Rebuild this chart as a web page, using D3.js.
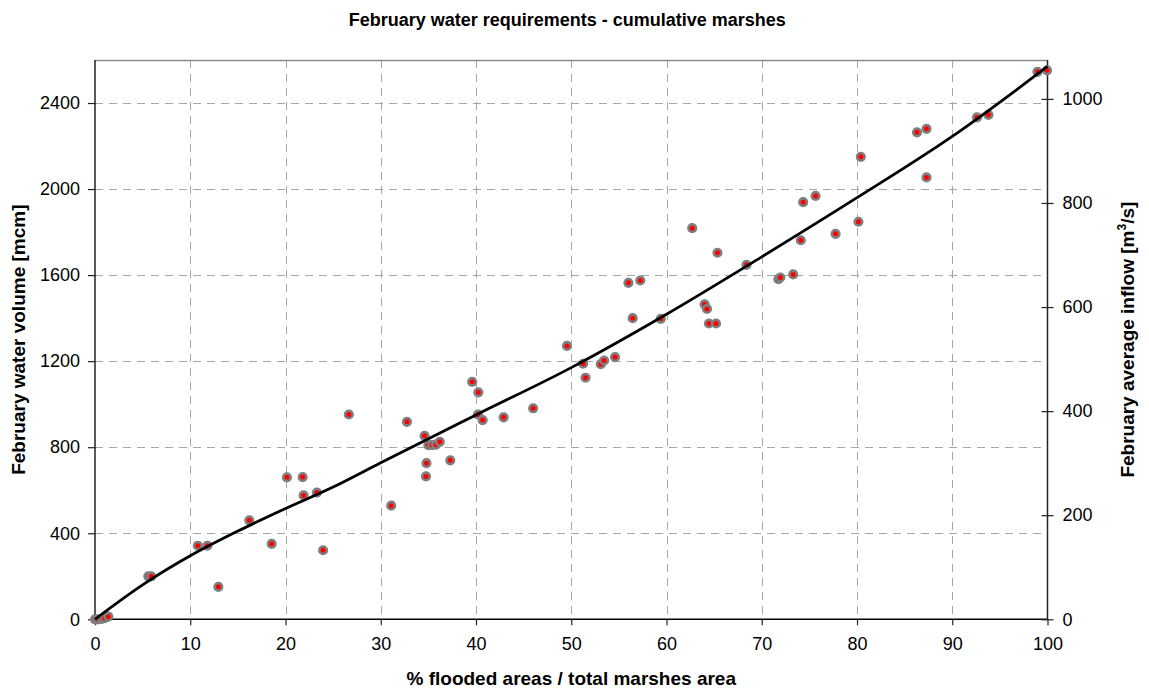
<!DOCTYPE html>
<html>
<head>
<meta charset="utf-8">
<script src="https://cdn.jsdelivr.net/npm/d3@7"></script>
<style>
  html, body { margin: 0; padding: 0; background: #ffffff; }
  svg { display: block; }
  text { font-family: "Liberation Sans", Arial, sans-serif; fill: #000; }
</style>
</head>
<body>
<svg id="chart" width="1149" height="692"></svg>
<script>
// Observed marsh states: share of the marshes that is flooded (%) and the
// February water volume needed to reach it (million cubic metres).
const floodedPct = [
  0, 0.3, 0.7, 1.0, 1.4, 5.6, 5.9, 10.8, 11.8, 12.95,
  16.2, 18.55, 20.15, 21.8, 21.9, 23.3, 23.95, 26.65, 31.1, 32.75,
  34.6, 34.8, 34.75, 35.0, 35.4, 35.8, 36.2, 37.3, 39.6, 40.25,
  40.2, 40.7, 42.9, 46.0, 49.55, 51.25, 51.5, 53.1, 53.45, 54.6,
  56.0, 56.45, 57.25, 59.4, 62.7, 64.0, 64.25, 64.45, 65.2, 65.35,
  68.4, 71.75, 71.95, 73.3, 74.1, 74.35, 75.65, 77.75, 80.15, 80.4,
  86.3, 87.3, 87.3, 92.6, 93.8, 98.95, 99.95
];
const volumeMcm = [
  0, 0, 2, 5, 12, 200, 200, 342, 342, 151,
  460, 351, 660, 661, 576, 589, 321, 952, 528, 918,
  853, 726, 664, 810, 810, 812, 825, 739, 1104, 1055,
  952, 926, 939, 981, 1271, 1188, 1123, 1186, 1203, 1219,
  1564, 1400, 1575, 1397, 1818, 1464, 1443, 1375, 1375, 1704,
  1648, 1581, 1589, 1603, 1762, 1939, 1968, 1792, 1848, 2150,
  2264, 2280, 2054, 2333, 2345, 2545, 2552
];

// Fitted requirement curve (flooded % -> volume, mcm)
const fitPct    = [0, 5, 10, 15, 20, 25, 30, 40, 50, 60, 70, 80, 90, 100];
const fitVolume = [0, 160, 295, 410, 515, 615, 728, 950, 1170, 1418, 1685, 1960, 2245, 2570];

// Axis ticks
const xTicks      = [0, 10, 20, 30, 40, 50, 60, 70, 80, 90, 100];
const volumeTicks = [0, 400, 800, 1200, 1600, 2000, 2400];
const inflowTicks = [0, 200, 400, 600, 800, 1000];

const volumeMax = 2600;
const februarySeconds = 28 * 24 * 3600;            // seconds in February
const inflowMax = volumeMax * 1e6 / februarySeconds; // m3/s equivalent

const svg = d3.select("#chart");
const plotLeft = 95, plotRight = 1047.5, plotTop = 60, plotBottom = 619.3;
const plotMidX = (plotLeft + plotRight) / 2, plotMidY = (plotTop + plotBottom) / 2;

const x  = d3.scaleLinear().domain([0, 100]).range([plotLeft, plotRight]);
const yL = d3.scaleLinear().domain([0, volumeMax]).range([plotBottom, plotTop]);
const yR = d3.scaleLinear().domain([0, inflowMax]).range([plotBottom, plotTop]);

// Dashed grid
const grid = svg.append("g").attr("stroke", "#a6a6a6").attr("stroke-width", 1)
  .attr("stroke-dasharray", "8,6").attr("shape-rendering", "crispEdges");
grid.selectAll("line.v").data(xTicks.filter(d => d > 0 && d < 100)).join("line")
  .attr("class", "v")
  .attr("x1", d => Math.round(x(d)) + 0.5).attr("x2", d => Math.round(x(d)) + 0.5)
  .attr("y1", plotTop).attr("y2", plotBottom);
grid.selectAll("line.h").data(volumeTicks.filter(d => d > 0)).join("line")
  .attr("class", "h")
  .attr("x1", plotLeft).attr("x2", plotRight)
  .attr("y1", d => Math.round(yL(d)) + 0.5).attr("y2", d => Math.round(yL(d)) + 0.5);

// Top frame
svg.append("line").attr("x1", plotLeft).attr("x2", plotRight)
  .attr("y1", plotTop + 0.5).attr("y2", plotTop + 0.5)
  .attr("stroke", "#8c8c8c").attr("stroke-width", 1.5);

// Axes
const tickFont = 18;
const gx = svg.append("g").attr("transform", `translate(0,${plotBottom})`)
  .call(d3.axisBottom(x).tickValues(xTicks).tickSize(6).tickPadding(12).tickFormat(d3.format("d")));
const gl = svg.append("g").attr("transform", `translate(${plotLeft},0)`)
  .call(d3.axisLeft(yL).tickValues(volumeTicks).tickSize(7).tickPadding(8).tickFormat(d3.format("d")));
const gr = svg.append("g").attr("transform", `translate(${plotRight},0)`)
  .call(d3.axisRight(yR).tickValues(inflowTicks).tickSizeInner(6).tickSizeOuter(0).tickPadding(9).tickFormat(d3.format("d")));
gr.selectAll(".tick line").attr("x1", -6);

[gx, gl, gr].forEach(g => {
  g.selectAll("text").attr("font-size", tickFont)
    .attr("font-family", "Liberation Sans, Arial, sans-serif").attr("fill", "#000");
  g.selectAll(".tick line").attr("stroke", "#222").attr("stroke-width", 1.2);
  g.select(".domain").attr("stroke", "#222").attr("stroke-width", 1.5);
});
gx.select(".domain").attr("d", `M${plotLeft},0H${plotRight}`).attr("stroke", "#000");
gl.select(".domain").attr("d", `M0,${plotTop}V${plotBottom}`);
gr.select(".domain").attr("d", `M0,${plotTop}V${plotBottom}`);

// Observations
const points = floodedPct.map((p, i) => ({ p, v: volumeMcm[i] }));
svg.append("g").selectAll("circle").data(points).join("circle")
  .attr("cx", d => x(d.p)).attr("cy", d => yL(d.v)).attr("r", 3.8)
  .attr("fill", "#ff0000").attr("stroke", "#7f7f7f").attr("stroke-width", 2.6);

// Fitted curve
const fit = fitPct.map((p, i) => ({ p, v: fitVolume[i] }));
svg.append("path").datum(fit)
  .attr("d", d3.line().x(d => x(d.p)).y(d => yL(d.v)).curve(d3.curveMonotoneX))
  .attr("fill", "none").attr("stroke", "#000").attr("stroke-width", 2.8);

// Titles
svg.append("text").attr("x", plotMidX - 4).attr("y", 26).attr("text-anchor", "middle")
  .attr("font-size", 18).attr("font-weight", "bold")
  .text("February water requirements - cumulative marshes");

svg.append("text").attr("x", plotMidX).attr("y", 685).attr("text-anchor", "middle")
  .attr("font-size", 19).attr("font-weight", "bold")
  .text("% flooded areas / total marshes area");

svg.append("text").attr("transform", `translate(25,${plotMidY}) rotate(-90)`).attr("text-anchor", "middle")
  .attr("font-size", 19).attr("font-weight", "bold")
  .text("February water volume [mcm]");

const rl = svg.append("text").attr("transform", `translate(1134,${plotMidY}) rotate(-90)`)
  .attr("text-anchor", "middle").attr("font-size", 19).attr("font-weight", "bold");
rl.append("tspan").text("February average inflow [m");
rl.append("tspan").attr("dy", -8).attr("font-size", 12).text("3");
rl.append("tspan").attr("dy", 8).text("/s]");
</script>
</body>
</html>
